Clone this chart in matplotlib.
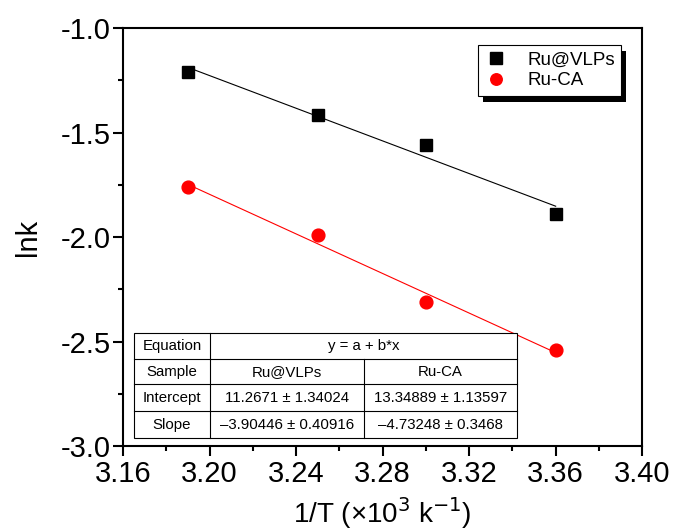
import matplotlib.pyplot as plt
import numpy as np
from matplotlib.patches import Rectangle
from matplotlib.ticker import MultipleLocator

plt.rcParams['font.family'] = ['Liberation Sans', 'DejaVu Sans']

# valeurs
x_inv_t = [3.19, 3.25, 3.30, 3.36]
lnk_vlp = [-1.21, -1.415, -1.56, -1.89]
lnk_ca = [-1.76, -1.99, -2.31, -2.54]

# ajustement linéaire (tableau)
samples = ['Ru@VLPs', 'Ru-CA']
intercepts = [11.2671, 13.34889]
slopes = [-3.90446, -4.73248]
intercept_txt = ['11.2671 \u00b1 1.34024', '13.34889 \u00b1 1.13597']
slope_txt = ['\u20133.90446 \u00b1 0.40916', '\u20134.73248 \u00b1 0.3468']

fig = plt.figure(figsize=(6.76, 5.30), dpi=100)
ax = fig.add_axes([0.182, 0.158, 0.768, 0.789])

xs = np.array([x_inv_t[0], x_inv_t[-1]])
ax.plot(xs, intercepts[0] + slopes[0] * xs, color='black', lw=0.8)
ax.plot(xs, intercepts[1] + slopes[1] * xs, color='red', lw=0.8)
ax.plot(x_inv_t, lnk_vlp, 's', color='black', ms=8.8, label='Ru@VLPs')
ax.plot(x_inv_t, lnk_ca, 'o', color='red', ms=9.2, label='Ru-CA')

ax.set_xlim(3.16, 3.40)
ax.set_ylim(-3.0, -1.0)
ax.xaxis.set_major_locator(MultipleLocator(0.04))
ax.xaxis.set_minor_locator(MultipleLocator(0.02))
ax.yaxis.set_major_locator(MultipleLocator(0.5))
ax.yaxis.set_minor_locator(MultipleLocator(0.25))
ax.set_xticklabels([f'{v:.2f}' for v in ax.get_xticks()])
ax.set_yticklabels([f'{v:.1f}' for v in ax.get_yticks()])
ax.tick_params(which='major', direction='out', length=7, width=1.5, labelsize=21)
ax.tick_params(which='minor', direction='out', length=3.5, width=1.5)
ax.tick_params(axis='x', which='major', pad=3)
ax.tick_params(axis='y', which='major', pad=2)
for s in ax.spines.values():
    s.set_linewidth(1.5)

ax.set_xlabel('1/T (\u00d710$^{3}$ k$^{-1}$)', fontsize=20, labelpad=5)
ax.set_ylabel('lnk', fontsize=21, labelpad=13)

leg = ax.legend(loc='upper right', bbox_to_anchor=(0.96, 0.96), fontsize=13.5,
                frameon=True, fancybox=False, edgecolor='black', framealpha=1,
                handletextpad=1.0, borderpad=0.35, labelspacing=0.2, handlelength=1.3,
                markerscale=0.9, borderaxespad=0)
leg.get_frame().set_linewidth(0.8)
leg.set_zorder(10)

# tableau d'ajustement
col_x = [0.021, 0.168, 0.464, 0.758]
row_y = [0.271, 0.209, 0.148, 0.084, 0.019]
lw_t = 0.8
fs_t = 10.8
ax.add_patch(Rectangle((col_x[0], row_y[-1]), col_x[-1] - col_x[0], row_y[0] - row_y[-1],
                       transform=ax.transAxes, facecolor='white', edgecolor='black', lw=lw_t, zorder=5))
ax.plot([col_x[1], col_x[1]], [row_y[0], row_y[-1]], transform=ax.transAxes, color='black', lw=lw_t, zorder=6)
ax.plot([col_x[2], col_x[2]], [row_y[1], row_y[-1]], transform=ax.transAxes, color='black', lw=lw_t, zorder=6)
for yy in row_y[1:-1]:
    ax.plot([col_x[0], col_x[-1]], [yy, yy], transform=ax.transAxes, color='black', lw=lw_t, zorder=6)

rows = [['Equation', 'y = a + b*x', None],
        ['Sample'] + samples,
        ['Intercept'] + intercept_txt,
        ['Slope'] + slope_txt]
for i, row in enumerate(rows):
    yc = (row_y[i] + row_y[i + 1]) / 2
    ax.text((col_x[0] + col_x[1]) / 2, yc, row[0], transform=ax.transAxes,
            ha='center', va='center', fontsize=fs_t, zorder=7)
    if row[2] is None:
        ax.text((col_x[1] + col_x[3]) / 2, yc, row[1], transform=ax.transAxes,
                ha='center', va='center', fontsize=fs_t, zorder=7)
    else:
        ax.text((col_x[1] + col_x[2]) / 2, yc, row[1], transform=ax.transAxes,
                ha='center', va='center', fontsize=fs_t, zorder=7)
        ax.text((col_x[2] + col_x[3]) / 2, yc, row[2], transform=ax.transAxes,
                ha='center', va='center', fontsize=fs_t, zorder=7)

# ombre noire de la légende (sous le cadre)
fig.canvas.draw()
bb = leg.get_window_extent().transformed(ax.transAxes.inverted())
dx, dy = 5 / (0.768 * 676), 6 / (0.789 * 530)
ax.add_patch(Rectangle((bb.x0 + dx, bb.y0 - dy), bb.width, bb.height,
                       transform=ax.transAxes, facecolor='black', edgecolor='none',
                       zorder=9, clip_on=False))

fig.savefig('out.png', dpi=100)
